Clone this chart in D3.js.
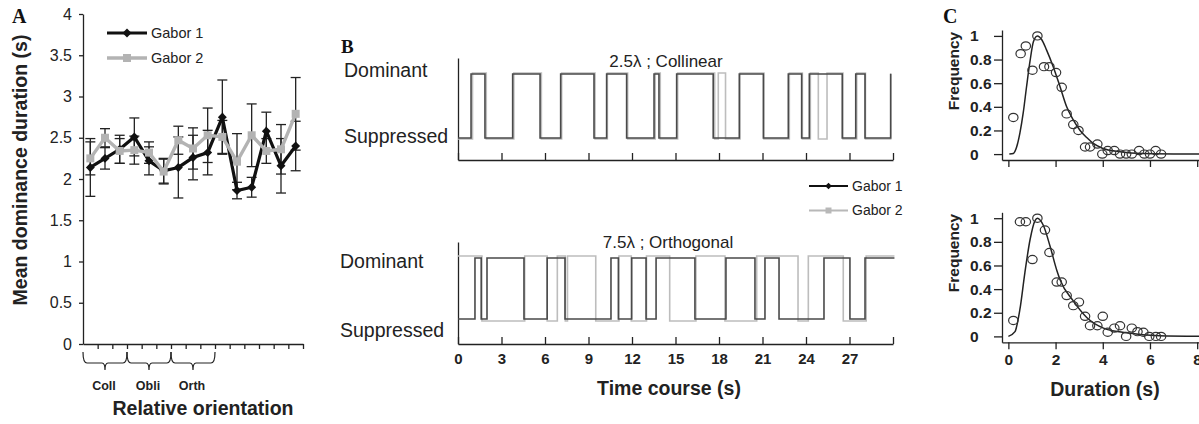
<!DOCTYPE html>
<html>
<head>
<meta charset="utf-8">
<title>rivalry figure</title>
<script src="https://d3js.org/d3.v7.min.js"></script>
<style>
  body { margin: 0; background: #fff; }
  svg { display: block; font-family: "Liberation Sans", Arial, sans-serif; }
  .axis path, .axis line { stroke: #222; stroke-width: 1.3; }
  .axis text { fill: #222; }
  .letter { font-family: "Liberation Serif", "Times New Roman", serif; font-weight: bold; fill: #111; }
</style>
</head>
<body>
<script>
// ---- panel A : mean dominance duration per condition
const conditions = d3.range(15);
const gabor1Mean = [2.14, 2.25, 2.36, 2.51, 2.22, 2.10, 2.14, 2.26, 2.32, 2.75, 1.86, 1.90, 2.58, 2.16, 2.40];
const gabor1Err  = [0.35, 0.13, 0.17, 0.23, 0.17, 0.15, 0.37, 0.27, 0.27, 0.45, 0.10, 0.12, 0.23, 0.33, 0.30];
const gabor2Mean = [2.25, 2.50, 2.34, 2.35, 2.32, 2.09, 2.47, 2.37, 2.53, 2.51, 2.21, 2.53, 2.34, 2.36, 2.79];
const gabor2Err  = [0.20, 0.11, 0.15, 0.17, 0.13, 0.15, 0.17, 0.25, 0.33, 0.20, 0.34, 0.38, 0.15, 0.30, 0.44];
const groupNames = ["Coll", "Obli", "Orth"];
const groupStart = [0, 3, 6];
const yTicksA = [0, 0.5, 1, 1.5, 2, 2.5, 3, 3.5, 4];

// ---- panel B : time course, flip times (s) of each Gabor, 1 = dominant
const timeTicks = d3.range(0, 31, 3);
const topG1Flips = [0.9, 1.86, 3.77, 5.66, 7.08, 9.38, 10.25, 11.63, 13.52, 13.86, 15.08, 17.6, 19.4, 21.06, 22.78, 23.7, 24.23, 26.5, 27.43, 28.07, 29.84];
const topG2Flips = [1.0, 1.95, 3.85, 5.75, 7.15, 9.45, 10.3, 11.7, 13.6, 13.95, 15.15, 17.7, 17.95, 18.45, 19.45, 21.1, 22.85, 23.75, 24.3, 24.85, 25.45, 26.55, 27.5, 28.1, 29.84];
const botG1Flips = [1.17, 1.6, 2.0, 4.55, 6.15, 7.38, 10.55, 11.06, 11.98, 12.97, 13.66, 16.34, 18.48, 20.48, 21.17, 22.14, 25.24, 27.03, 28.07];
const botG2Flips = [1.65, 4.6, 6.15, 6.85, 7.4, 7.55, 9.5, 11.1, 11.95, 13.0, 14.6, 16.41, 18.41, 20.6, 23.45, 24.16, 26.57, 28.15];
const topEnd = 29.84, botEnd = 30.1;

// ---- panel C : duration distributions
const durTicks = [0, 2, 4, 6, 8];
const freqTicks = [0, 0.2, 0.4, 0.6, 0.8, 1];
const topDur  = [0.21, 0.52, 0.74, 1.02, 1.23, 1.51, 1.74, 2.02, 2.26, 2.47, 2.75, 2.97, 3.25, 3.46, 3.77, 3.98, 4.21, 4.49, 4.73, 4.99, 5.23, 5.54, 5.76, 6.0, 6.24, 6.47];
const topFreq = [0.31, 0.85, 0.915, 0.71, 1.0, 0.74, 0.74, 0.69, 0.565, 0.34, 0.25, 0.2, 0.06, 0.06, 0.085, 0, 0.03, 0.03, 0, 0, 0, 0.03, 0, 0, 0.03, 0];
const topFitT = [0.04, 0.21, 0.35, 0.49, 0.63, 0.77, 0.92, 1.06, 1.23, 1.41, 1.62, 1.9, 2.19, 2.47, 2.75, 3.04, 3.32, 3.6, 3.98, 4.73, 5.7, 8.2];
const topFitF = [0, 0.005, 0.06, 0.18, 0.35, 0.57, 0.79, 0.95, 1.0, 0.97, 0.88, 0.74, 0.57, 0.40, 0.29, 0.2, 0.14, 0.09, 0.05, 0.02, 0.005, 0];
const botDur  = [0.21, 0.49, 0.74, 1.02, 1.23, 1.55, 1.74, 2.05, 2.26, 2.47, 2.75, 2.99, 3.25, 3.46, 3.77, 4.0, 4.21, 4.49, 4.73, 4.99, 5.23, 5.47, 5.72, 5.97, 6.25, 6.47];
const botFreq = [0.135, 0.97, 0.97, 0.65, 1.0, 0.90, 0.71, 0.46, 0.46, 0.345, 0.26, 0.29, 0.17, 0.09, 0.09, 0.17, 0.035, 0.07, 0.09, 0, 0.07, 0.04, 0.035, 0, 0, 0];
const botFitT = [0.0, 0.28, 0.49, 0.7, 0.92, 1.13, 1.23, 1.48, 1.77, 2.05, 2.19, 2.75, 3.32, 4.03, 5.0, 6.4, 8.2];
const botFitF = [0, 0.04, 0.23, 0.54, 0.82, 0.98, 1.0, 0.94, 0.76, 0.56, 0.48, 0.3, 0.16, 0.07, 0.03, 0.005, 0];

const svg = d3.select("body").append("svg").attr("width", 1199).attr("height", 424);

// ================= A =================
const xA = d3.scaleLinear().domain([0, 15]).range([83, 303]);
const yA = d3.scaleLinear().domain([0, 4]).range([344, 14]);
const cx = i => xA(i + 0.5);

svg.append("text").attr("class", "letter").attr("x", 12).attr("y", 23).attr("font-size", 20).text("A");

svg.append("g").attr("class", "axis").attr("transform", "translate(83,0)")
  .call(d3.axisLeft(yA).tickValues(yTicksA).tickFormat(d3.format("")).tickSize(4).tickPadding(7).tickSizeOuter(0))
  .selectAll("text").attr("font-size", 16);
svg.append("g").attr("class", "axis").attr("transform", "translate(0,344)")
  .call(d3.axisBottom(xA).tickValues(d3.range(1, 16)).tickFormat("").tickSize(5).tickSizeOuter(0));

// error bars
function errBars(mean, err) {
  const g = svg.append("g").attr("stroke", "#222").attr("stroke-width", 1.3);
  conditions.forEach(i => {
    const x = cx(i), y0 = yA(mean[i] - err[i]), y1 = yA(mean[i] + err[i]);
    g.append("line").attr("x1", x).attr("x2", x).attr("y1", y0).attr("y2", y1);
    g.append("line").attr("x1", x - 5).attr("x2", x + 5).attr("y1", y0).attr("y2", y0);
    g.append("line").attr("x1", x - 5).attr("x2", x + 5).attr("y1", y1).attr("y2", y1);
  });
}
errBars(gabor1Mean, gabor1Err);
errBars(gabor2Mean, gabor2Err);

const lineA = d3.line().x((d, i) => cx(i)).y(d => yA(d));
const diamond = d3.symbol().type(d3.symbolSquare).size(40);
const square = d3.symbol().type(d3.symbolSquare).size(64);

svg.append("path").datum(gabor1Mean).attr("d", lineA).attr("fill", "none").attr("stroke", "#111").attr("stroke-width", 3.2);
svg.append("g").selectAll("path").data(gabor1Mean).join("path")
  .attr("d", diamond).attr("fill", "#111")
  .attr("transform", (d, i) => `translate(${cx(i)},${yA(d)}) rotate(45)`);
svg.append("path").datum(gabor2Mean).attr("d", lineA).attr("fill", "none").attr("stroke", "#b3b3b3").attr("stroke-width", 3.4);
svg.append("g").selectAll("path").data(gabor2Mean).join("path")
  .attr("d", square).attr("fill", "#b3b3b3")
  .attr("transform", (d, i) => `translate(${cx(i)},${yA(d)})`);

// legend
function legend(x0, x1, y, color, sym, rot, label, fs, sw) {
  svg.append("line").attr("x1", x0).attr("x2", x1).attr("y1", y).attr("y2", y).attr("stroke", color).attr("stroke-width", sw);
  svg.append("path").attr("d", sym).attr("fill", color).attr("transform", `translate(${(x0 + x1) / 2},${y}) rotate(${rot})`);
  svg.append("text").attr("x", x1 + 4).attr("y", y).attr("dy", "0.35em").attr("font-size", fs).attr("fill", "#222").text(label);
}
legend(107, 147, 33, "#111", diamond, 45, "Gabor 1", 14.5, 3.2);
legend(107, 147, 58, "#b3b3b3", square, 0, "Gabor 2", 14.5, 3.4);

// braces
const braceG = svg.append("g");
groupNames.forEach((name, k) => {
  const a = xA(groupStart[k]), b = xA(groupStart[k] + 3), m = (a + b) / 2;
  const yt = 352, yh = 363, yp = 370;
  braceG.append("path")
    .attr("d", `M${a},${yt} Q${a},${yh} ${a + 4},${yh} L${m - 3},${yh} Q${m},${yh} ${m},${yp} Q${m},${yh} ${m + 3},${yh} L${b - 4},${yh} Q${b},${yh} ${b},${yt}`)
    .attr("fill", "none").attr("stroke", "#222").attr("stroke-width", 1.2);
  braceG.append("text").attr("x", m - 1).attr("y", 390).attr("text-anchor", "middle")
    .attr("font-size", 12.5).attr("font-weight", "bold").attr("fill", "#222").text(name);
});
svg.append("text").attr("x", 203).attr("y", 415).attr("text-anchor", "middle").attr("font-size", 19.5)
  .attr("font-weight", "bold").attr("fill", "#222").text("Relative orientation");
svg.append("text").attr("transform", "translate(27,170) rotate(-90)").attr("text-anchor", "middle")
  .attr("font-size", 19.5).attr("font-weight", "bold").attr("fill", "#222").text("Mean dominance duration (s)");

// ================= B =================
const xB = d3.scaleLinear().domain([0, 30]).range([458, 893]);
svg.append("text").attr("class", "letter").attr("x", 341).attr("y", 53).attr("font-size", 19).text("B");

function steps(flips, start, end) {
  let s = start;
  const pts = [[0, s]];
  flips.forEach(t => { s = 1 - s; pts.push([t, s]); });
  if (end > flips[flips.length - 1]) pts.push([end, s]);
  return pts;
}

function tracePanel(opt) {
  const yD = d3.scaleLinear().domain([0, 1]).range([opt.sup, opt.dom]);
  const yG = d3.scaleLinear().domain([0, 1]).range([opt.sup + opt.off, opt.dom - opt.off]);
  svg.append("g").attr("class", "axis").attr("transform", `translate(458,0)`)
    .call(d3.axisLeft(d3.scaleLinear().range([opt.axisY, opt.top])).tickValues([]).tickSizeOuter(0));
  const ax = svg.append("g").attr("class", "axis").attr("transform", `translate(0,${opt.axisY})`)
    .call(d3.axisBottom(xB).tickValues(timeTicks).tickSizeInner(-7).tickSizeOuter(0).tickPadding(9)
      .tickFormat(d => opt.labels && d < 30 ? d : ""));
  ax.selectAll("text").attr("font-size", 15).attr("font-weight", "bold");
  const stepLine = y => d3.line().x(d => xB(d[0])).y(d => y(d[1])).curve(d3.curveStepAfter);
  svg.append("path").datum(steps(opt.g2, opt.g2Start, opt.end)).attr("d", stepLine(yG))
    .attr("fill", "none").attr("stroke", "#bdbdbd").attr("stroke-width", 1.6);
  svg.append("path").datum(steps(opt.g1, opt.g1Start, opt.end)).attr("d", stepLine(yD))
    .attr("fill", "none").attr("stroke", "#4a4a4a").attr("stroke-width", 1.6);
  svg.append("text").attr("x", opt.lx).attr("y", opt.domText).attr("font-size", 19.5).attr("fill", "#222").text("Dominant");
  svg.append("text").attr("x", opt.lx).attr("y", opt.supText).attr("font-size", 19.5).attr("fill", "#222").text("Suppressed");
  svg.append("text").attr("x", opt.tx).attr("y", opt.ty).attr("text-anchor", "middle").attr("font-size", 17).attr("fill", "#222").text(opt.title);
}

tracePanel({ top: 58, axisY: 160, dom: 74, sup: 138, off: 1, g1: topG1Flips, g2: topG2Flips, g1Start: 0, g2Start: 0,
  end: topEnd, labels: false, lx: 344, domText: 77, supText: 143, tx: 666, ty: 67, title: "2.5\u03bb ; Collinear" });
tracePanel({ top: 242, axisY: 344, dom: 258, sup: 319, off: 2, g1: botG1Flips, g2: botG2Flips, g1Start: 0, g2Start: 1,
  end: botEnd, labels: true, lx: 340, domText: 268, supText: 337, tx: 668, ty: 248, title: "7.5\u03bb ; Orthogonal" });

svg.append("text").attr("x", 669).attr("y", 395).attr("text-anchor", "middle").attr("font-size", 19.5)
  .attr("font-weight", "bold").attr("fill", "#222").text("Time course (s)");

const diamondB = d3.symbol().type(d3.symbolSquare).size(22);
const squareB = d3.symbol().type(d3.symbolSquare).size(36);
legend(809, 848, 186, "#111", diamondB, 45, "Gabor 1", 14, 2.2);
legend(809, 848, 210.5, "#b8b8b8", squareB, 0, "Gabor 2", 14, 2.2);

// ================= C =================
const xC = d3.scaleLinear().domain([-0.27, 8.2]).range([1002, 1201.9]);
svg.append("text").attr("class", "letter").attr("x", 943).attr("y", 23).attr("font-size", 20).text("C");

function distPanel(opt) {
  const y = d3.scaleLinear().domain([-0.05, 1.05]).range([opt.axisY, opt.axisY - 130]);
  const ay = svg.append("g").attr("class", "axis").attr("transform", "translate(1002,0)")
    .call(d3.axisLeft(y).tickValues(freqTicks).tickFormat(d3.format("")).tickSize(8).tickSizeOuter(0));
  ay.selectAll("text").attr("font-size", 15.5).attr("font-weight", "bold").attr("text-anchor", "start").attr("x", -32);
  const axx = svg.append("g").attr("class", "axis").attr("transform", `translate(0,${opt.axisY})`)
    .call(d3.axisBottom(xC).tickValues(durTicks).tickFormat(d => opt.labels ? d : "").tickSize(7).tickSizeOuter(0).tickPadding(5));
  axx.selectAll("text").attr("font-size", 15.5).attr("font-weight", "bold");
  const fit = opt.fitT.map((t, i) => [t, opt.fitF[i]]);
  svg.append("path").datum(fit)
    .attr("d", d3.line().x(d => xC(d[0])).y(d => y(d[1])).curve(d3.curveMonotoneX))
    .attr("fill", "none").attr("stroke", "#222").attr("stroke-width", 1.5);
  svg.append("g").selectAll("ellipse").data(opt.dur).join("ellipse")
    .attr("cx", d => xC(d)).attr("cy", (d, i) => y(opt.freq[i]))
    .attr("rx", 4.7).attr("ry", 4.1).attr("fill", "none").attr("stroke", "#333").attr("stroke-width", 1.2);
  svg.append("text").attr("transform", `translate(959,${opt.labY}) rotate(-90)`).attr("text-anchor", "middle")
    .attr("font-size", 15.5).attr("font-weight", "bold").attr("fill", "#222").text("Frequency");
}
distPanel({ axisY: 160, labels: false, dur: topDur, freq: topFreq, fitT: topFitT, fitF: topFitF, labY: 71 });
distPanel({ axisY: 342.3, labels: true, dur: botDur, freq: botFreq, fitT: botFitT, fitF: botFitF, labY: 253 });

svg.append("text").attr("x", 1105).attr("y", 396).attr("text-anchor", "middle").attr("font-size", 19.5)
  .attr("font-weight", "bold").attr("fill", "#222").text("Duration (s)");
</script>
</body>
</html>
